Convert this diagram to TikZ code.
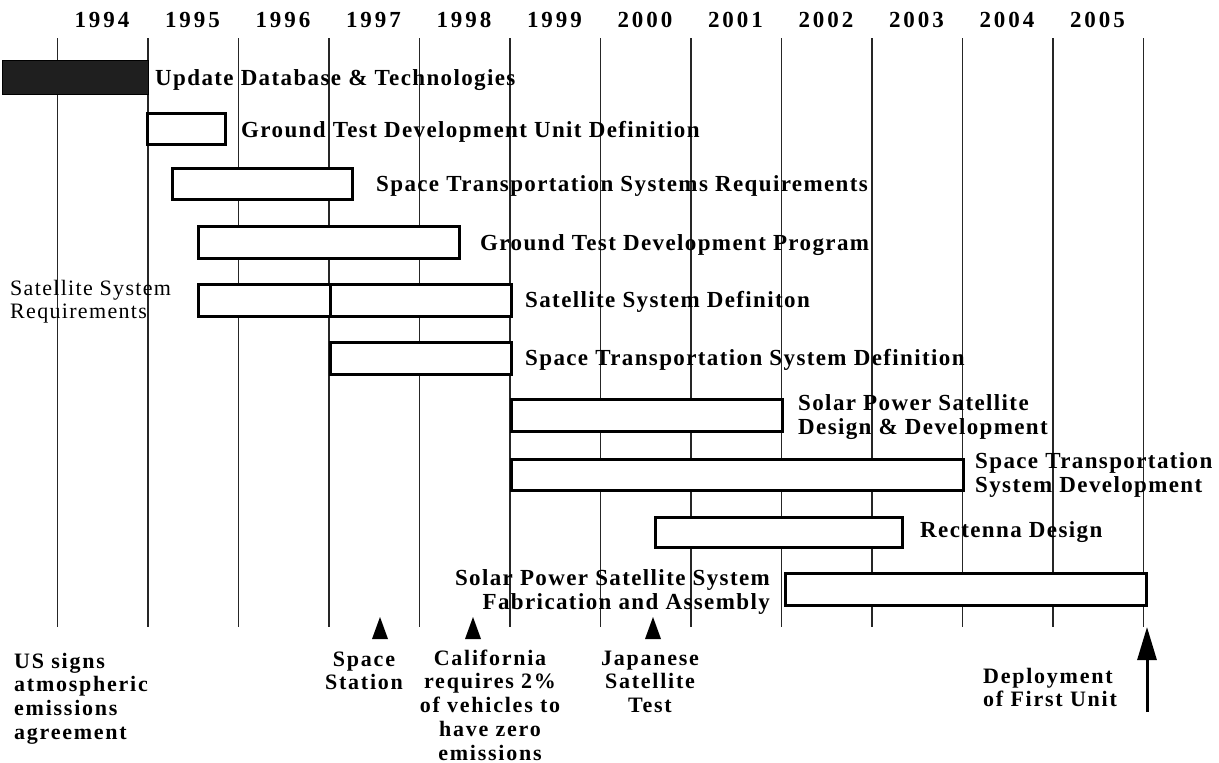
\documentclass[tikz,border=0pt]{standalone}
\usepackage{fontspec}
\setmainfont{Liberation Serif}
\newfontfamily\yrfont[LetterSpace=13]{Liberation Serif}
\newfontfamily\lbfont[LetterSpace=6]{Liberation Serif}
\newfontfamily\evfont[LetterSpace=8]{Liberation Serif}
\usetikzlibrary{arrows.meta}
\newcommand\mll[1]{\vtop{\let\\\cr\halign{##\hfil\cr#1\crcr}}}
\newcommand\mlc[1]{\vtop{\let\\\cr\halign{\hfil##\hfil\cr#1\crcr}}}
\newcommand\mlr[1]{\vtop{\let\\\cr\halign{\hfil##\cr#1\crcr}}}
\begin{document}
\begin{tikzpicture}[x=1pt,y=-1pt,
  gridline/.style={line width=1.1pt, black!85},
  bar/.style={draw=black, line width=3pt, fill=white},
  darkbar/.style={draw=black, line width=1pt, fill=black!88},
  yr/.style={font=\yrfont\bfseries\fontsize{23}{24}\selectfont, inner sep=0pt, anchor=base},
  lab/.style={font=\lbfont\bfseries\fontsize{23}{24}\selectfont, inner sep=0pt, anchor=base west},
  reglab/.style={font=\lbfont\fontsize{22}{23.5}\selectfont, inner sep=0pt, anchor=base west},
  evt/.style={font=\evfont\bfseries\fontsize{22}{23.75}\selectfont, inner sep=0pt, anchor=base},
  marker/.style={fill=black}
]
\useasboundingbox (0,0) rectangle (1219,763);
% grid lines
\foreach \i in {0,...,12}{
  \draw[gridline] ({57.5+90.5*\i},38) -- ({57.5+90.5*\i},627);
}
% year labels
\foreach \yr [count=\i from 0] in {1994,1995,1996,1997,1998,1999,2000,2001,2002,2003,2004,2005}{
  \node[yr] (y\yr) at ({102+90.5*\i},27) {\yr};
}
% bars
\draw[darkbar] (2,60) rectangle (148,94);
\draw[bar] (147,113) rectangle (225,144);
\draw[bar] (172,168) rectangle (352,199);
\draw[bar] (198,226) rectangle (459,258);
\draw[bar] (198,284) rectangle (330,316);
\draw[bar] (330,284) rectangle (511,316);
\draw[bar] (330,342) rectangle (511,374);
\draw[bar] (511,399) rectangle (782,431);
\draw[bar] (511,459) rectangle (963,490);
\draw[bar] (655,517) rectangle (902,547);
\draw[bar] (785,573) rectangle (1146,605);
% task labels
\node[lab] (t1) at (155,85) {Update Database \& Technologies};
\node[lab] (t2) at (241,137) {Ground Test Development Unit Definition};
\node[lab] (t3) at (376,191) {Space Transportation Systems Requirements};
\node[lab] (t4) at (480,250) {Ground Test Development Program};
\node[reglab] (t5a) at (10,295) {\mll{Satellite System\\Requirements}};
\node[lab] (t5) at (525,307) {Satellite System\ Definiton};
\node[lab] (t6) at (525,365) {Space Transportation System Definition};
\node[lab] (t7) at (798,410) {\mll{Solar Power Satellite\\Design \& Development}};
\node[lab] (t8) at (975,468) {\mll{Space Transportation\\System Development}};
\node[lab] (t9) at (920,537) {Rectenna Design};
\node[lab, anchor=base east] (t10) at (770,585) {\mlr{Solar Power Satellite System\\Fabrication and Assembly}};
% event markers
\fill[marker] (372,639) -- (380,617) -- (388,639) -- cycle;
\fill[marker] (465,639) -- (473,617) -- (481,639) -- cycle;
\fill[marker] (645,639) -- (653,617) -- (661,639) -- cycle;
\coordinate (depbase) at (1147,712);
\coordinate (deptip) at (1147,627);
\draw[line width=3pt, -{Triangle[length=33pt,width=19pt]}] (depbase) -- (deptip);
% event labels
\node[evt, anchor=base west] (e1) at (14,668) {\mll{US signs\\atmospheric\\emissions\\agreement}};
\node[evt] (e2) at (364,666) {\mlc{Space\\Station}};
\node[evt] (e3) at (490,665) {\mlc{California\\requires 2\%\\of vehicles to\\have zero\\emissions}};
\node[evt] (e4) at (650,665) {\mlc{Japanese\\Satellite\\Test}};
\node[evt, anchor=base west] (e5) at (983,683) {\mll{Deployment\\of First Unit}};
\end{tikzpicture}
\end{document}
